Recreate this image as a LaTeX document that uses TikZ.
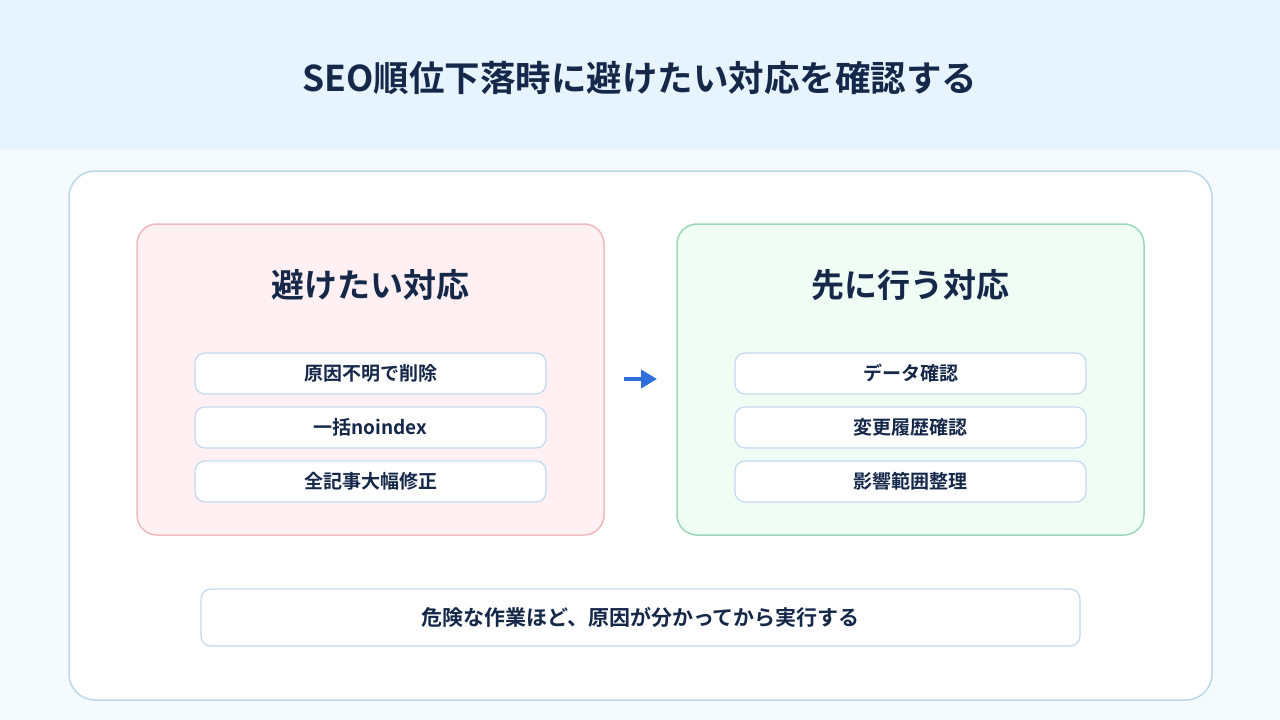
\documentclass[tikz,border=0pt]{standalone}
\usepackage{fontspec}
\newfontfamily\cjk{Noto Sans CJK JP}[BoldFont={* Bold}]
\usetikzlibrary{arrows.meta}
\definecolor{ink}{HTML}{15284A}
\definecolor{hdr}{HTML}{E7F4FE}
\definecolor{bg}{HTML}{F5FAFE}
\definecolor{card}{HTML}{BCD8E8}
\definecolor{pinkf}{HTML}{FEF0F3}
\definecolor{pinkd}{HTML}{F0B9C0}
\definecolor{greenf}{HTML}{EFFDF5}
\definecolor{greend}{HTML}{9CD8B8}
\definecolor{itemd}{HTML}{C4D9EE}
\definecolor{arr}{HTML}{2E6FDB}
\begin{document}
\begin{tikzpicture}[x=1pt,y=-1pt,
 item/.style={draw=itemd,line width=1.2pt,fill=white,rounded corners=10pt,minimum width=351pt,minimum height=41pt,font=\cjk\bfseries\fontsize{19}{22}\selectfont,text=ink},
 panel/.style={line width=1.5pt,rounded corners=20pt,minimum width=467pt,minimum height=311pt},
 ptitle/.style={font=\cjk\bfseries\fontsize{33}{38}\selectfont,text=ink}]
\useasboundingbox (0,0) rectangle (1280,720);
\fill[bg] (0,0) rectangle (1280,720);
\fill[hdr] (0,0) rectangle (1280,150);
\node[font=\cjk\bfseries\fontsize{35.5}{40}\selectfont,text=ink] (title) at (640,78) {SEO順位下落時に避けたい対応を確認する};
\node[draw=card,line width=1.5pt,fill=white,rounded corners=26pt,minimum width=1143pt,minimum height=529pt] (main) at (640.5,435.5) {};
\node[panel,draw=pinkd,fill=pinkf] (left) at (370.5,379.5) {};
\node[panel,draw=greend,fill=greenf] (right) at (910.5,379.5) {};
\node[ptitle] (lt) at (370.5,285) {避けたい対応};
\node[ptitle] (rt) at (910.5,285) {先に行う対応};
\node[item] (l1) at (370.5,373.5) {原因不明で削除};
\node[item] (l2) at (370.5,427.5) {一括noindex};
\node[item] (l3) at (370.5,481.5) {全記事大幅修正};
\node[item] (r1) at (910.5,373.5) {データ確認};
\node[item] (r2) at (910.5,427.5) {変更履歴確認};
\node[item] (r3) at (910.5,481.5) {影響範囲整理};
\coordinate (a1) at (624,379);
\coordinate (a2) at (657,379);
\draw[arr,line width=4pt,-{Triangle[length=16pt,width=18pt]}] (a1) -- (a2);
\node[item,minimum width=879pt,minimum height=57pt,font=\cjk\bfseries\fontsize{21}{24}\selectfont] (bot) at (640.5,617.5) {危険な作業ほど、原因が分かってから実行する};
\end{tikzpicture}
\end{document}
